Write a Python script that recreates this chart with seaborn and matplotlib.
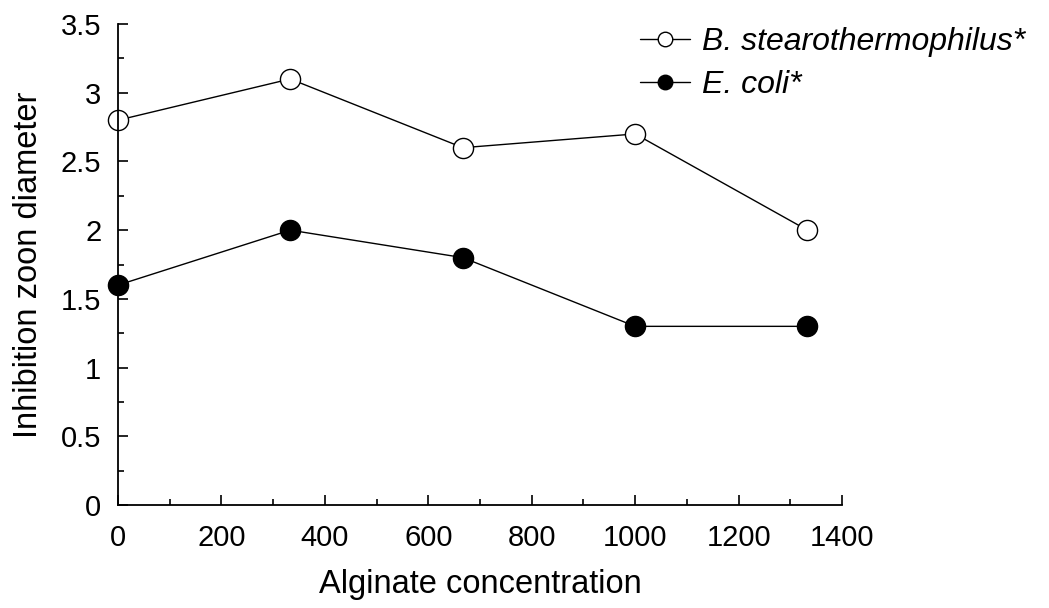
import matplotlib
matplotlib.use("Agg")
import matplotlib.pyplot as plt
import seaborn as sns
import pandas as pd
from matplotlib.ticker import MultipleLocator

concentration = [0, 333, 667, 1000, 1333]
b_stearo = [2.8, 3.1, 2.6, 2.7, 2.0]
e_coli = [1.6, 2.0, 1.8, 1.3, 1.3]
series_names = ["B. stearothermophilus*", "E. coli*"]
y_tick_labels = ["0", "0.5", "1", "1.5", "2", "2.5", "3", "3.5"]

sns.set_style("ticks")
plt.rcParams["font.family"] = ["Liberation Sans", "DejaVu Sans"]
plt.rcParams["text.color"] = "black"
plt.rcParams["axes.labelcolor"] = "black"
plt.rcParams["xtick.color"] = "black"
plt.rcParams["ytick.color"] = "black"

fig = plt.figure(figsize=(10.49, 6.08), dpi=100)
ax = fig.add_axes([118/1049, 1 - 505/608, 724/1049, 481/608])

df_b = pd.DataFrame({"x": concentration, "y": b_stearo})
df_e = pd.DataFrame({"x": concentration, "y": e_coli})

sns.lineplot(data=df_b, x="x", y="y", ax=ax, color="black", lw=1,
             marker="o", markersize=14.5, markerfacecolor="white",
             markeredgecolor="black", markeredgewidth=1, label=series_names[0])
sns.lineplot(data=df_e, x="x", y="y", ax=ax, color="black", lw=1,
             marker="o", markersize=14.5, markerfacecolor="black",
             markeredgecolor="black", markeredgewidth=1, label=series_names[1])

for l in ax.lines:
    l.set_clip_on(False)

ax.set_xlim(0, 1400)
ax.set_ylim(0, 3.5)
ax.xaxis.set_major_locator(MultipleLocator(200))
ax.xaxis.set_minor_locator(MultipleLocator(100))
ax.yaxis.set_minor_locator(MultipleLocator(0.25))
ax.set_yticks([float(v) for v in y_tick_labels])
ax.set_yticklabels(y_tick_labels)
ax.tick_params(which="major", direction="in", length=7, width=1.2, labelsize=21,
               colors="black")
ax.tick_params(axis="y", which="major", pad=12)
ax.tick_params(axis="x", which="major", pad=14)
ax.tick_params(which="minor", direction="in", length=4, width=1.2, colors="black")
for s in ["top", "right"]:
    ax.spines[s].set_visible(False)
for s in ["left", "bottom"]:
    ax.spines[s].set_linewidth(1.3)
    ax.spines[s].set_color("black")

ax.set_xlabel("Alginate concentration", fontsize=23.5, labelpad=12, color="black")
ax.set_ylabel("Inhibition zoon diameter", fontsize=23.5, labelpad=12, color="black")

leg = ax.legend(loc="upper left", bbox_to_anchor=(640/1049, 1 - 27/608),
                bbox_transform=fig.transFigure, frameon=False,
                prop={"size": 23, "style": "italic"}, handlelength=1.55,
                handletextpad=0.4, labelspacing=0.4, markerscale=0.72,
                borderpad=0, borderaxespad=0)
for t in leg.get_texts():
    t.set_color("black")

fig.savefig("out.png", dpi=100)
